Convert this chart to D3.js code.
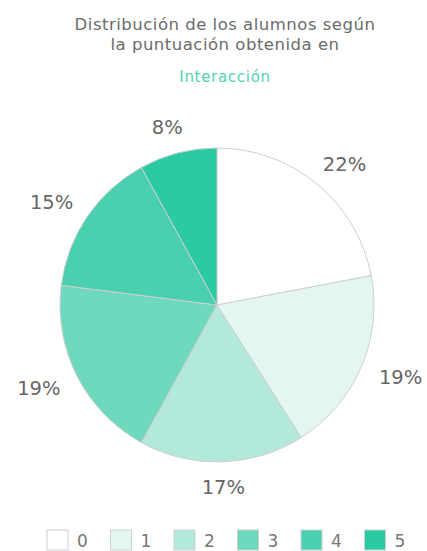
<!DOCTYPE html>
<html><head><meta charset="utf-8">
<script src="https://cdn.jsdelivr.net/npm/d3@7"></script>
<style>body{margin:0;background:#fff;} svg{display:block;}</style>
</head><body>
<svg id="c" width="427" height="551"></svg>
<script>
const titleLines = ["Distribución de los alumnos según", "la puntuación obtenida en"];
const subtitle = "Interacción";
const categories = ["0", "1", "2", "3", "4", "5"];
const values = [22, 19, 17, 19, 15, 8];
const colors = ["#ffffff", "#e4f6f0", "#b2e9da", "#6fd9bd", "#4ad0ae", "#2acaa2"];

const svg = d3.select("#c");
const font = "'DejaVu Sans', sans-serif";
const cx = 217, cy = 305, r = 157, lrx = 200, lry = 183;

svg.selectAll("text.title").data(titleLines).enter().append("text")
  .attr("class", "title")
  .attr("x", 225).attr("y", (d, i) => 30 + i * 20)
  .attr("text-anchor", "middle").attr("font-family", font).attr("font-size", 16.5)
  .attr("letter-spacing", 0.5)
  .attr("fill", "#6b6b6b").text(d => d);
svg.append("text").attr("x", 225).attr("y", 82).attr("text-anchor", "middle")
  .attr("font-family", font).attr("font-size", 15).attr("letter-spacing", 0.7)
  .attr("fill", "#52d3b2").text(subtitle);

const pie = d3.pie().sort(null).value(d => d)(values);
const arc = d3.arc().innerRadius(0).outerRadius(r);
const g = svg.append("g").attr("transform", `translate(${cx},${cy})`);
g.selectAll("path").data(pie).enter().append("path")
  .attr("d", arc).attr("fill", (d, i) => colors[i])
  .attr("stroke", "#cfcfcf").attr("stroke-width", 1);
const mid = d => (d.startAngle + d.endAngle) / 2;
g.selectAll("text").data(pie).enter().append("text")
  .attr("x", d => lrx * Math.sin(mid(d)))
  .attr("y", d => -lry * Math.cos(mid(d)))
  .attr("text-anchor", "middle").attr("dominant-baseline", "central")
  .attr("font-family", font).attr("font-size", 19.5).attr("fill", "#666")
  .text(d => d.value + "%");

const x = d3.scaleBand().domain(categories).range([47, 47 + 63.5 * 6]);
const lg = svg.selectAll("g.leg").data(categories).enter().append("g")
  .attr("class", "leg")
  .attr("transform", d => `translate(${x(d)},530)`);
lg.append("rect").attr("width", 21).attr("height", 20)
  .attr("fill", (d, i) => colors[i]).attr("stroke", "#cfcfcf").attr("stroke-width", 1);
lg.append("text").attr("x", 30).attr("y", 17).attr("font-family", font)
  .attr("font-size", 17).attr("fill", "#777").text(d => d);
</script>
</body></html>
